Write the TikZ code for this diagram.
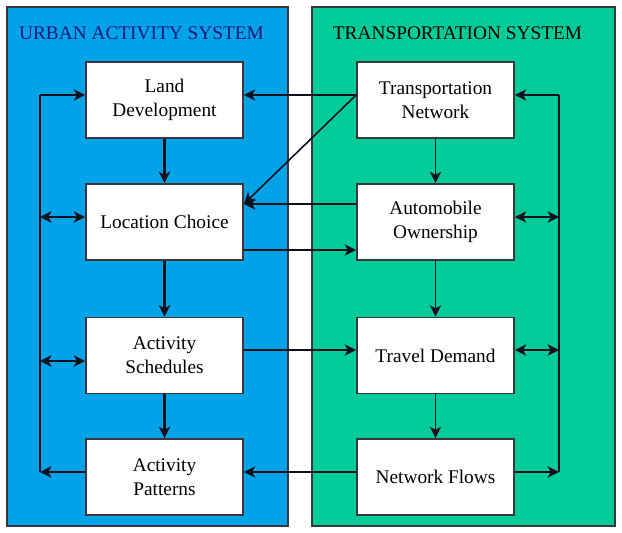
\documentclass[tikz,border=0pt]{standalone}
\usepackage{fontspec}
\setmainfont{Liberation Serif}
\usetikzlibrary{arrows.meta}
\definecolor{urbanblue}{RGB}{0,162,232}
\definecolor{transgreen}{RGB}{0,204,153}
\definecolor{panelgray}{RGB}{55,55,60}
\definecolor{titlenavy}{RGB}{25,25,125}
\definecolor{linkdark}{RGB}{15,15,30}

\begin{document}
\begin{tikzpicture}[font=\fontsize{11}{13.6}\selectfont, >={Stealth[length=6.5pt,width=6.5pt,inset=1.8pt]},
  panel/.style={draw=panelgray,line width=0.6pt},
  sysbox/.style={draw=panelgray,fill=white,line width=1pt,minimum width=3.14cm,
    minimum height=1.52cm,align=center,inner sep=0pt},
  link/.style={->,linkdark,line width=0.9pt},
  loopline/.style={linkdark,line width=0.9pt}]

\useasboundingbox (0,0) rectangle (12.44,10.64);

% ---------- Panels ----------
\draw[panel,fill=urbanblue] (0.14,0.12) rectangle (5.76,10.5);
\draw[panel,fill=transgreen] (6.24,0.12) rectangle (12.30,10.5);
\node[titlenavy] (urbantitle) at (2.83,9.98) {URBAN ACTIVITY SYSTEM};
\node (transtitle) at (9.15,9.98) {TRANSPORTATION SYSTEM};

% ---------- Urban activity system ----------
\node[sysbox] (landdev)   at (3.29,8.64) {Land\\Development};
\node[sysbox] (locchoice) at (3.29,6.20) {Location Choice};
\node[sysbox] (actsched)  at (3.29,3.53) {Activity\\Schedules};
\node[sysbox] (actpat)    at (3.29,1.10) {Activity\\Patterns};

\draw[link,line width=1.4pt] (landdev) -- (locchoice);
\draw[link,line width=1.4pt] (locchoice) -- (actsched);
\draw[link,line width=1.4pt] (actsched) -- (actpat);

\coordinate (urbantop) at (0.80,8.74);
\coordinate (urbanbot) at (0.80,1.20);
\draw[link,line width=1.1pt] ([yshift=0.10cm]actpat.west) -- (urbanbot);
\draw[loopline,line width=1.3pt] (urbanbot) -- (urbantop);
\draw[link,line width=1.1pt] (urbantop) -- (urbantop -| landdev.west);
\draw[link,line width=1.1pt,<->] (urbantop |- 0,6.30) -- ([yshift=0.10cm]locchoice.west);
\draw[link,line width=1.1pt,<->] (urbantop |- 0,3.42) -- ([yshift=-0.11cm]actsched.west);

% ---------- Transportation system ----------
\node[sysbox] (transnet)  at (8.71,8.64) {Transportation\\Network};
\node[sysbox] (autoown)   at (8.71,6.20) {Automobile\\Ownership};
\node[sysbox] (traveldem) at (8.71,3.53) {Travel Demand};
\node[sysbox] (netflow)   at (8.71,1.10) {Network Flows};

\draw[link,line width=0.8pt] (transnet) -- (autoown);
\draw[link,line width=0.8pt] (autoown) -- (traveldem);
\draw[link,line width=0.8pt] (traveldem) -- (netflow);

\coordinate (transtop) at (11.18,8.74);
\coordinate (transbot) at (11.18,1.20);
\draw[link] ([yshift=0.10cm]netflow.east) -- (transbot);
\draw[loopline] (transbot) -- (transtop);
\draw[link] (transtop) -- (transtop -| transnet.east);
\draw[link,<->] ([yshift=0.10cm]autoown.east) -- (transtop |- 0,6.30);
\draw[link,<->] ([yshift=0.11cm]traveldem.east) -- (transtop |- 0,3.64);

% ---------- Links between systems ----------
\draw[link] ([yshift=0.10cm]transnet.west) -- ([yshift=0.10cm]landdev.east);
\draw[link] ([yshift=0.10cm]transnet.west) -- ([yshift=0.36cm]locchoice.east);
\draw[link] ([yshift=0.36cm]autoown.west) -- ([yshift=0.36cm]locchoice.east);
\draw[link] ([yshift=-0.56cm]locchoice.east) -- ([yshift=-0.56cm]autoown.west);
\draw[link] ([yshift=0.11cm]actsched.east) -- ([yshift=0.11cm]traveldem.west);
\draw[link] ([yshift=0.10cm]netflow.west) -- ([yshift=0.10cm]actpat.east);

\end{tikzpicture}
\end{document}
